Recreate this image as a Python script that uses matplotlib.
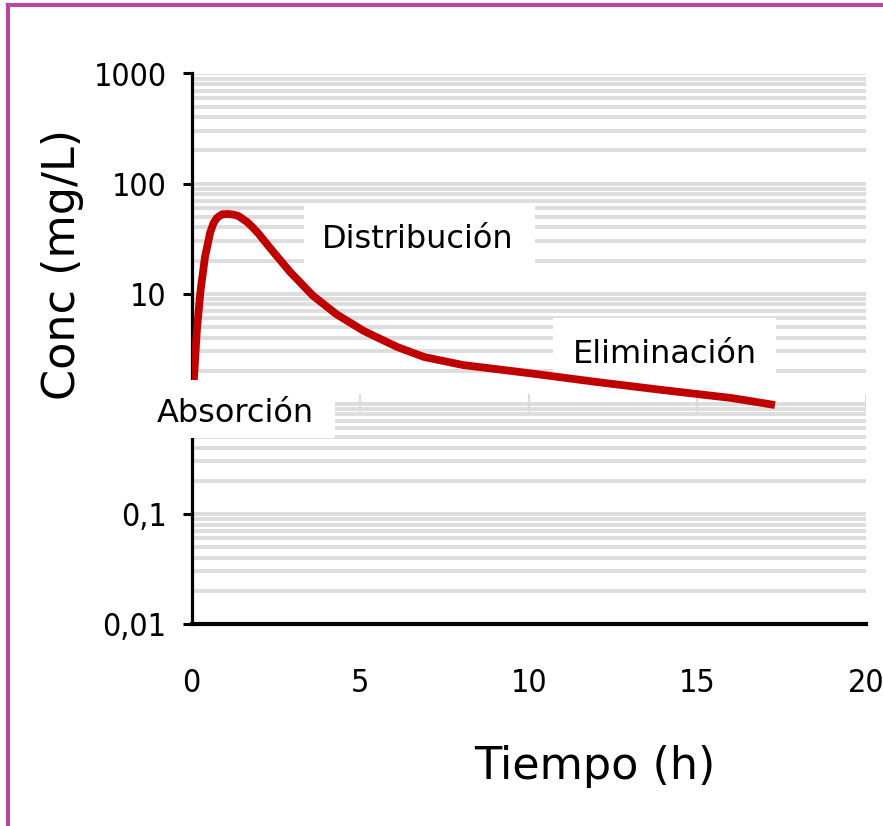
import matplotlib
matplotlib.use("Agg")
import matplotlib.pyplot as plt
from matplotlib.patches import Rectangle
from matplotlib.lines import Line2D
from matplotlib.ticker import FixedLocator, FixedFormatter, LogLocator, NullFormatter
from matplotlib import font_manager

# Plasma concentration curve (time in hours, concentration in mg/L)
tiempo = [0.0, 0.07, 0.16, 0.27, 0.40, 0.55, 0.65, 0.75, 0.90, 1.08, 1.25, 1.39,
          1.64, 1.78, 1.97, 2.33, 2.92, 3.6, 4.3, 5.1, 6.1, 6.9, 8.05, 10.0,
          12.0, 14.0, 16.0, 17.3]
conc = [0.5, 1.64, 4.7, 10.8, 21.5, 35.6, 43.5, 48.7, 52.6, 53.0, 52.3, 50.8,
        45.0, 41.0, 35.6, 26.0, 15.8, 9.6, 6.5, 4.6, 3.28, 2.66, 2.25, 1.9,
        1.58, 1.33, 1.13, 0.975]

y_ticks = [0.01, 0.1, 1, 10, 100, 1000]
y_tick_labels = ["0,01", "0,1", "", "10", "100", "1000"]
x_ticks = [0, 5, 10, 15, 20]
x_tick_labels = ["0", "5", "10", "15", "20"]

phases = ["Distribución", "Eliminación", "Absorción"]

W, H = 883, 826
fig = plt.figure(figsize=(W / 100, H / 100), dpi=100)
fig.patch.set_facecolor("white")


def fx(px):
    return px / W


def fy(py):
    return 1 - py / H


ax = fig.add_axes([fx(191.5), fy(624), (866 - 191.5) / W, (624 - 73.5) / H])
ax.set_yscale("log")
ax.set_xlim(0, 20)
ax.set_ylim(0.01, 1000)

grid_color = "#dddddd"
ax.set_axisbelow(True)
ax.yaxis.set_major_locator(FixedLocator(y_ticks))
ax.yaxis.set_major_formatter(FixedFormatter(y_tick_labels))
ax.yaxis.set_minor_locator(LogLocator(base=10, subs=range(2, 10), numticks=20))
ax.yaxis.set_minor_formatter(NullFormatter())
ax.grid(True, axis="y", which="both", color=grid_color, linewidth=2.8, zorder=0)
ax.grid(False, axis="x")

ax.xaxis.set_major_locator(FixedLocator(x_ticks))
ax.xaxis.set_major_formatter(FixedFormatter(x_tick_labels))

# narrow face for the tick numbers when one is available
tick_fp = font_manager.FontProperties(family="DejaVu Sans", stretch="condensed")
condensed = "Condensed" in font_manager.findfont(tick_fp)
tick_size = 23 if condensed else 21

ax.tick_params(axis="y", which="major", length=6.5, width=2.2, color="black",
               pad=11.5, labelsize=tick_size)
ax.tick_params(axis="y", which="minor", length=0)
ax.tick_params(axis="x", which="major", length=0, pad=32, labelsize=tick_size)
for lab in ax.get_xticklabels() + ax.get_yticklabels():
    lab.set_fontproperties(tick_fp)
    lab.set_fontsize(tick_size)

for s in ("top", "right"):
    ax.spines[s].set_visible(False)
ax.spines["left"].set_linewidth(2.3)
ax.spines["bottom"].set_linewidth(3.0)

# light crossing ticks along the 1 mg/L line
ax.vlines(x_ticks[1:], 0.81, 1.23, color=grid_color, linewidth=1.6, zorder=1)

ax.plot(tiempo, conc, color="#c00000", linewidth=5.6, solid_joinstyle="round",
        solid_capstyle="butt", zorder=3)

ax.set_xlabel("Tiempo (h)", fontsize=32, va="center", ha="center")
ax.xaxis.set_label_coords((594.5 - 191.5) / 674.5, (624 - 766) / 550.5)
ax.set_ylabel("Conc (mg/L)", fontsize=32, va="center", ha="center")
ax.yaxis.set_label_coords((62 - 191.5) / 674.5, (624 - 264) / 550.5)

# phase labels on white panels; the first two sit under the curve,
# the absorption panel sits over the axis and the start of the curve
panels = [
    ((304, 205, 535, 263), (417.5, 248), 2),
    ((553, 318, 776, 375), (664.5, 363), 2),
    ((136, 380, 335, 438), (235.5, 422), 5),
]
for name, (box, (tx, ty), z) in zip(phases, panels):
    x0, y0, x1, y1 = box
    rect = Rectangle((fx(x0), fy(y1)), (x1 - x0) / W, (y1 - y0) / H,
                     transform=fig.transFigure, facecolor="white",
                     edgecolor="none", zorder=z, clip_on=False)
    if z < 3:
        ax.add_artist(rect)
        ax.text(fx(tx), fy(ty), name, fontsize=23, ha="center", va="baseline",
                transform=fig.transFigure, zorder=2.5)
    else:
        fig.add_artist(rect)
        fig.text(fx(tx), fy(ty), name, fontsize=23, ha="center", va="baseline",
                 zorder=6)

# frame
frame_color = "#b5489f"
fig.add_artist(Line2D([fx(8), 1], [fy(5.3), fy(5.3)], color=frame_color,
                      linewidth=3, transform=fig.transFigure, zorder=7))
fig.add_artist(Line2D([fx(8), fx(8)], [fy(5.3), 0], color=frame_color,
                      linewidth=3, transform=fig.transFigure, zorder=7))

fig.savefig("out.png", dpi=100, facecolor="white")
